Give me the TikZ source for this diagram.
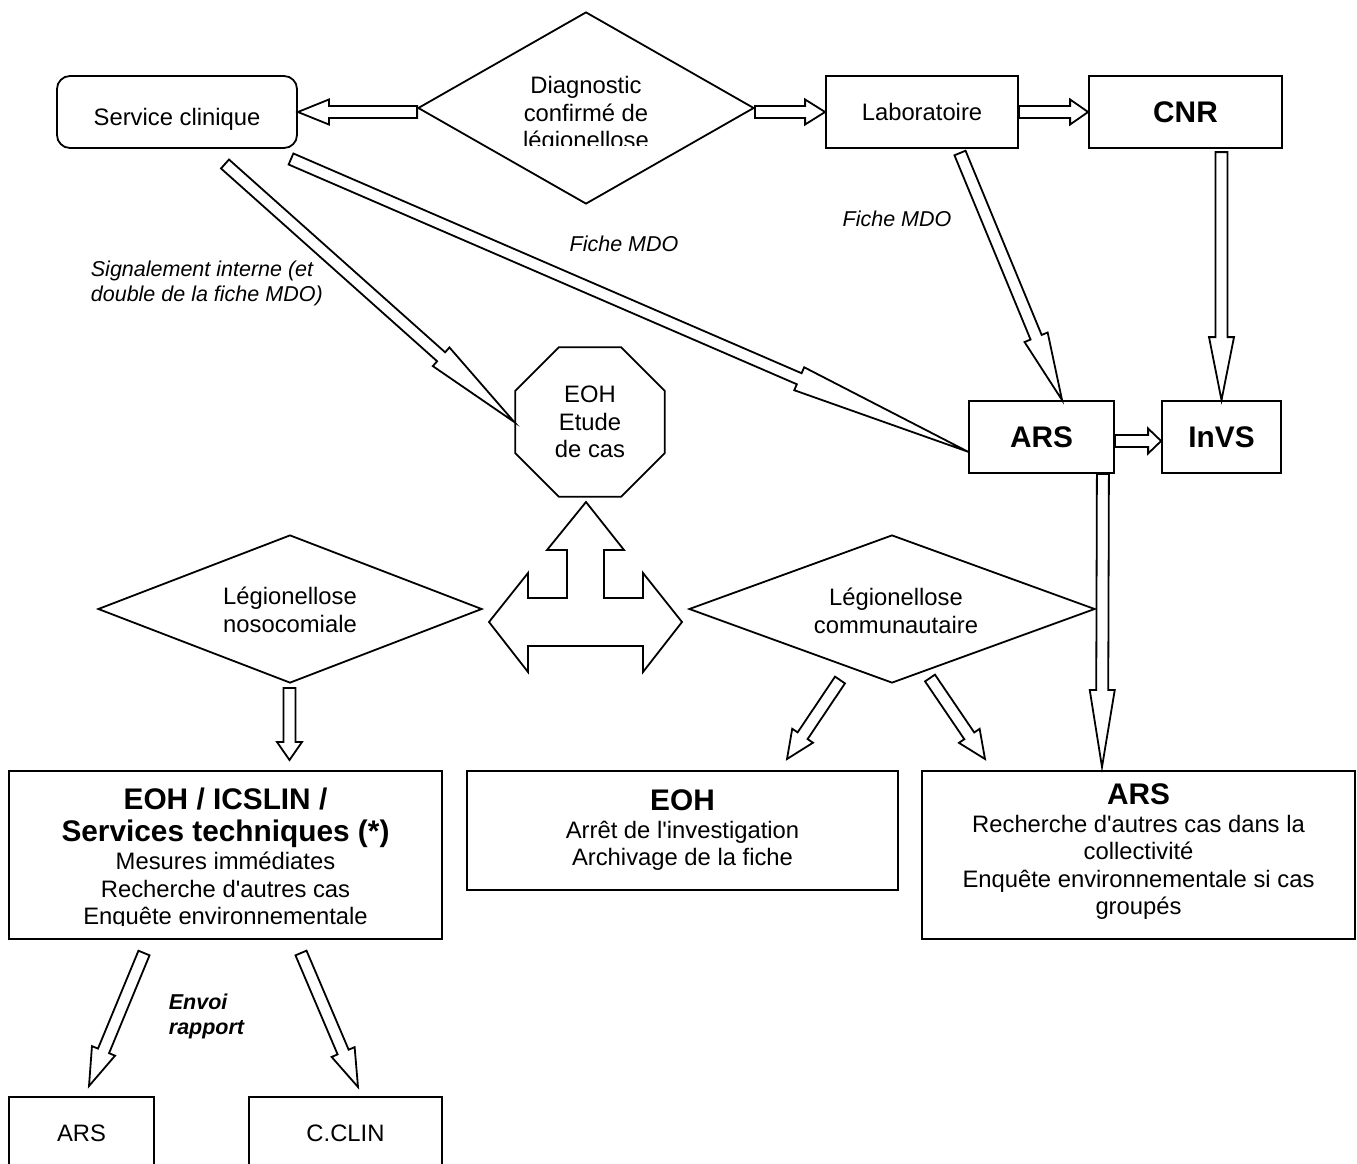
\documentclass[tikz,border=0pt]{standalone}
\usepackage{fontspec}
\setmainfont{Liberation Sans}[Ligatures=TeXOff]
\usetikzlibrary{calc,shapes.geometric}
\newcommand\fnorm{\fontsize{23.8pt}{27.5pt}\selectfont}
\newcommand\fbig{\fontsize{29.8pt}{34pt}\selectfont\bfseries}
\newcommand\fital{\fontsize{21.5pt}{25pt}\selectfont\itshape}
\newcommand\blockarrow[3]{%
  \coordinate (bahead) at ($(#2)!#3pt!(#1)$);
  \draw[barrow] ($(#1)!6pt!90:(#2)$) -- ($(bahead)!6pt!90:(#2)$) -- ($(bahead)!12.5pt!90:(#2)$) -- (#2)
    -- ($(bahead)!12.5pt!-90:(#2)$) -- ($(bahead)!6pt!-90:(#2)$) -- ($(#1)!6pt!-90:(#2)$) -- cycle;}
\begin{document}
\begin{tikzpicture}[x=1pt,y=-1pt,line width=1.8pt,
  box/.style={draw, rectangle, inner sep=0pt, align=center, font=\fnorm},
  txt/.style={inner sep=0pt, align=center, font=\fnorm},
  barrow/.style={draw, fill=white, line join=miter},
  lbl/.style={inner sep=0pt, align=left, font=\fital}]
\useasboundingbox (0,0) rectangle (1357,1164);

% top row
\node[box, rounded corners=13pt, minimum width=240pt, minimum height=72pt, text height=26pt, text depth=0pt] (sc) at (177,112) {Service clinique};
\node[draw, diamond, minimum width=336pt, minimum height=192pt, inner sep=0pt] (d1) at (586,108) {};
\begin{scope}
  \clip (400,40) rectangle (770,145);
  \node[txt] (d1t) at (586,115) {Diagnostic\\confirmé de\\légionellose};
\end{scope}
\node[box, minimum width=192pt, minimum height=72pt] (lab) at (922,112) {Laboratoire};
\node[box, minimum width=193pt, minimum height=72pt, font=\fbig] (cnr) at (1185.5,112) {CNR};

% middle
\node[box, minimum width=145pt, minimum height=72pt, font=\fbig] (ars1) at (1041.5,437) {ARS};
\node[box, minimum width=119pt, minimum height=72pt, font=\fbig] (invs) at (1221.5,437) {InVS};
\node[draw, regular polygon, regular polygon sides=8, minimum size=162pt, inner sep=0pt, align=center, font=\fnorm] (oct) at (590,422) {EOH\\Etude\\de cas};
\node[draw, diamond, minimum width=384pt, minimum height=148pt, inner sep=0pt] (nos) at (290,609) {};
\node[txt] (nost) at (290,610) {Légionellose\\nosocomiale};
\node[draw, diamond, minimum width=406pt, minimum height=148pt, inner sep=0pt] (comm) at (892,609) {};
\node[txt] (commt) at (896,611) {Légionellose\\communautaire};

% triple arrow
\draw[barrow] (586,502) -- (624,550) -- (604,550) -- (604,598) -- (643,598) -- (643,573) -- (682,622)
  -- (643,672) -- (643,646) -- (528,646) -- (528,672) -- (489,622) -- (528,573) -- (528,598)
  -- (567,598) -- (567,550) -- (547,550) -- cycle;

% lower boxes
\node[box, minimum width=433pt, minimum height=168pt] (big) at (225.5,855) {};
\begin{scope}
  \clip (9,771) rectangle (442,925);
  \node[txt] (bigt) at (225.5,859) {{\fbig EOH / ICSLIN /}\\[4pt]{\fbig Services techniques (*)}\\[1pt]Mesures immédiates\\Recherche d'autres cas\\Enquête environnementale};
\end{scope}
\node[box, minimum width=431pt, minimum height=119pt] (eoh) at (682.5,830.5) {{\fbig EOH}\\Arrêt de l'investigation\\Archivage de la fiche};
\node[box, minimum width=433pt, minimum height=168pt] (arsr) at (1138.5,855) {};
\node[txt] (arsrt) at (1138.5,852) {{\fbig ARS}\\Recherche d'autres cas dans la\\collectivité\\Enquête environnementale si cas\\groupés};
\node[box, minimum width=145pt, minimum height=72pt] (arss) at (81.5,1133) {ARS};
\node[box, minimum width=193pt, minimum height=72pt] (cclin) at (345.5,1133) {C.CLIN};

% labels
\node[lbl, anchor=west] (lsig) at (90,283) {Signalement interne (et\\double de la fiche MDO)};
\node[lbl] (lf1) at (624,244) {Fiche MDO};
\node[lbl] (lf2) at (897,219) {Fiche MDO};
\node[lbl, anchor=west, font=\fital\bfseries] (lenv) at (168,1016) {Envoi\\rapport};

% connector end points
\coordinate (a1) at (d1.west |- sc.east);
\coordinate (a2) at (d1.east |- lab.west);
\coordinate (t1) at (225,164);
\coordinate (t2) at (291,159);
\coordinate (h2) at ($(ars1.west)!0.4!(ars1.south west)$);
\coordinate (t3) at (960,153);
\coordinate (h3) at ($(ars1.north west)!0.64!(ars1.north east)$);
\coordinate (t4) at ($(invs.north)+(0,-248)$);
\coordinate (t5) at ($(ars1.east)+(0,4)$);
\coordinate (h5) at ($(invs.west)+(0,4)$);
\coordinate (t6) at ($(ars1.south east)+(-12,0)$);
\coordinate (h6) at (1102,767);
\coordinate (t7) at (289.5,688);
\coordinate (h7) at (289.5,760);
\coordinate (t8) at (840,680);
\coordinate (h8) at (787,759);
\coordinate (t9) at (930,678);
\coordinate (h9) at (985,759);
\coordinate (t10) at (144,953);
\coordinate (h10) at (89,1086);
\coordinate (t11) at (301,953);
\coordinate (h11) at (358,1087);

% block arrows
\blockarrow{a1}{sc.east}{31}
\blockarrow{a2}{lab.west}{20}
\blockarrow{lab.east}{cnr.west}{18}
\blockarrow{t1}{oct.west}{98}
\blockarrow{t2}{h2}{184}
\blockarrow{t3}{h3}{68}
\blockarrow{t4}{invs.north}{63}
\blockarrow{t5}{h5}{13}
\blockarrow{t6}{h6}{77}
\blockarrow{t7}{h7}{18}
\blockarrow{t8}{h8}{28}
\blockarrow{t9}{h9}{28}
\blockarrow{t10}{h10}{38}
\blockarrow{t11}{h11}{38}
\end{tikzpicture}
\end{document}
